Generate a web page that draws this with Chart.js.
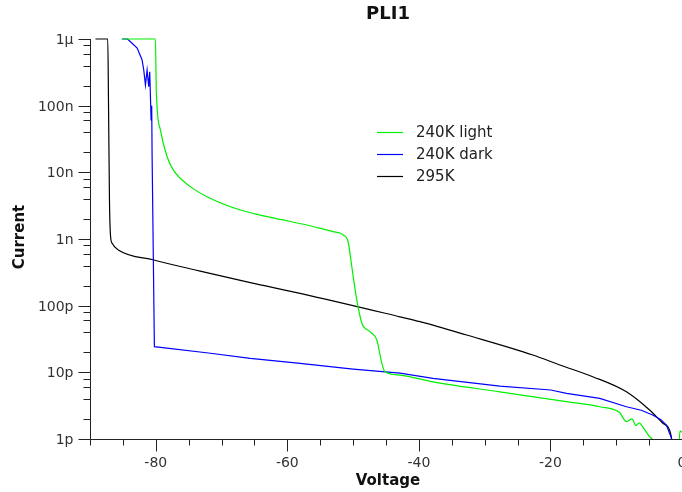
<!DOCTYPE html>
<html>
<head>
<meta charset="utf-8">
<script src="https://cdn.jsdelivr.net/npm/chart.js@4"></script>
<style>
  html, body { margin: 0; padding: 0; background: #fff; }
  canvas { display: block; }
</style>
</head>
<body>
<canvas id="c" width="682" height="492"></canvas>
<script>
// ---- Data ----
const chartTitle = 'PLI1';
const xAxisTitle = 'Voltage';
const yAxisTitle = 'Current';
const seriesNames = ['240K light', '240K dark', '295K'];

const lightVoltage = [-85.20, -80.06, -79.91, -79.30, -78.28, -77.32, -74.74, -72.21, -67.15, -62.14, -57.03, -53.04, -51.98, -51.52, -50.76, -50.20, -49.44, -48.68, -47.42, -46.40, -45.64, -45.14, -42.87, -37.86, -27.69, -17.56, -12.50, -9.5, -8.45, -7.6, -7.0, -6.5, -5.98, -5.5, -4.93, -4.46, -3.5, -0.6, -0.3, 0];
const lightCurrent = [1e-6, 1e-6, 1.55e-7, 4.32e-8, 1.71e-8, 1.08e-8, 6.1e-9, 4.31e-9, 2.72e-9, 2.07e-9, 1.62e-9, 1.29e-9, 1.23e-9, 1.15e-9, 9.1e-10, 3.84e-10, 1.22e-10, 5.5e-11, 4.07e-11, 3.05e-11, 1.38e-11, 1.02e-11, 9.1e-12, 7.2e-12, 5.1e-12, 3.63e-12, 3.05e-12, 2.5e-12, 1.82e-12, 2.0e-12, 1.6e-12, 1.75e-12, 1.53e-12, 1.3e-12, 1.08e-12, 9.7e-13, 4e-13, 5e-13, 1.32e-12, 1.26e-12];

const darkVoltage = [-85.11, -84.30, -83.85, -82.83, -82.08, -81.83, -81.57, -81.32, -81.07, -80.92, -80.71, -80.62, -80.56, -80.21, -72.0, -65.63, -58.05, -50.0, -42.87, -37.86, -27.69, -19.94, -17.56, -12.50, -8.45, -6.2, -4.46, -3.2, -2.38, -1.62, -1.40];
const darkCurrent = [1e-6, 1e-6, 9.1e-7, 7.3e-7, 4.84e-7, 3.43e-7, 2.04e-7, 3.43e-7, 1.92e-7, 3.23e-7, 6.1e-8, 1e-7, 1.82e-8, 2.43e-11, 1.95e-11, 1.62e-11, 1.36e-11, 1.12e-11, 9.7e-12, 8.1e-12, 6.2e-12, 5.43e-12, 4.84e-12, 4.07e-12, 3.05e-12, 2.7e-12, 2.29e-12, 1.95e-12, 1.62e-12, 1.04e-12, 6.3e-13];

const roomVoltage = [-89.17, -87.30, -87.19, -87.04, -86.89, -86.63, -85.63, -80.31, -73.98, -65.63, -58.05, -42.87, -39.83, -32.74, -22.68, -18.58, -13.57, -8.45, -4.93, -2.95, -1.62, -1.40];
const roomCurrent = [1e-6, 1e-6, 1.2e-7, 3.85e-9, 1.15e-9, 8.6e-10, 6.8e-10, 4.84e-10, 3.43e-10, 2.21e-10, 1.53e-10, 6.8e-11, 5.75e-11, 3.63e-11, 1.82e-11, 1.29e-11, 8.6e-12, 5.1e-12, 2.72e-12, 1.74e-12, 1.08e-12, 6.3e-13];

const xTickValues = [-80, -60, -40, -20, 0];
const xTickLabels = ['-80', '-60', '-40', '-20', '0'];
const yTickValues = [1e-12, 1e-11, 1e-10, 1e-9, 1e-8, 1e-7, 1e-6];
const yTickLabels = ['1p', '10p', '100p', '1n', '10n', '100n', '1µ'];

const seriesColors = ['#00f000', '#0000ff', '#000000'];

function pts(xs, ys) { return xs.map((v, i) => ({ x: v, y: ys[i] })); }

const FONT = '"DejaVu Sans", sans-serif';

const decor = {
  id: 'decor',
  afterDraw(chart) {
    const { ctx, chartArea: a, scales: { x, y } } = chart;
    ctx.save();
    ctx.strokeStyle = '#222';
    ctx.lineWidth = 1;
    const seg = (x1, y1, x2, y2) => { ctx.beginPath(); ctx.moveTo(x1, y1); ctx.lineTo(x2, y2); ctx.stroke(); };
    const L = Math.round(a.left) + 0.5;
    const B = Math.round(a.bottom) + 0.5;
    // axis lines
    seg(L, a.top, L, B);
    seg(L, B, a.right, B);
    // y ticks
    ctx.fillStyle = '#333';
    ctx.font = '14px ' + FONT;
    ctx.textAlign = 'right';
    ctx.textBaseline = 'middle';
    yTickValues.forEach((v, i) => {
      const py = Math.round(y.getPixelForValue(v)) + 0.5;
      seg(L - 12, py, L, py);
      ctx.fillText(yTickLabels[i], L - 17, py + 1);
      if (i < yTickValues.length - 1) {
        [2, 4, 6, 8].forEach(m => {
          const pm = Math.round(y.getPixelForValue(v * m)) + 0.5;
          seg(L - 7, pm, L, pm);
        });
      }
    });
    // x ticks
    ctx.textAlign = 'center';
    ctx.textBaseline = 'top';
    for (let v = x.min; v <= x.max + 1e-9; v += 5) {
      const px = Math.round(x.getPixelForValue(v)) + 0.5;
      const major = xTickValues.includes(v);
      seg(px, B, px, B + (major ? 12 : 6));
    }
    xTickValues.forEach((v, i) => {
      const px = x.getPixelForValue(v);
      ctx.fillText(xTickLabels[i], px, B + 17);
    });
    // titles
    ctx.fillStyle = '#111';
    ctx.font = 'bold 18px ' + FONT;
    ctx.textBaseline = 'alphabetic';
    ctx.fillText(chartTitle, (a.left + a.right) / 2 + 2, 19);
    ctx.font = 'bold 15px ' + FONT;
    ctx.fillText(xAxisTitle, (a.left + a.right) / 2 + 2, 485);
    ctx.save();
    ctx.translate(24, (a.top + a.bottom) / 2 - 2);
    ctx.rotate(-Math.PI / 2);
    ctx.fillText(yAxisTitle, 0, 0);
    ctx.restore();
    // legend
    ctx.font = '15px ' + FONT;
    ctx.textAlign = 'left';
    ctx.textBaseline = 'middle';
    const ly = [132, 154, 176];
    seriesNames.forEach((n, i) => {
      ctx.strokeStyle = seriesColors[i];
      ctx.lineWidth = 1.2;
      seg(377, ly[i] + 0.5, 403, ly[i] + 0.5);
      ctx.fillStyle = '#222';
      ctx.fillText(n, 416, ly[i] + 1);
    });
    ctx.restore();
  }
};

new Chart(document.getElementById('c'), {
  type: 'line',
  data: {
    datasets: [
      { label: seriesNames[0], data: pts(lightVoltage, lightCurrent), borderColor: seriesColors[0], cubicInterpolationMode: 'monotone' },
      { label: seriesNames[1], data: pts(darkVoltage, darkCurrent), borderColor: seriesColors[1], tension: 0 },
      { label: seriesNames[2], data: pts(roomVoltage, roomCurrent), borderColor: seriesColors[2], cubicInterpolationMode: 'monotone' }
    ]
  },
  options: {
    responsive: false,
    animation: false,
    devicePixelRatio: 1,
    layout: { padding: { left: 90, top: 39, right: 0, bottom: 53 } },
    datasets: {
      line: { borderWidth: 1.2, pointRadius: 0, fill: false, clip: { left: 2, top: 3, right: 2, bottom: 1 } }
    },
    plugins: { legend: { display: false }, title: { display: false }, tooltip: { enabled: false } },
    scales: {
      x: { type: 'linear', min: -90, max: 0, display: false },
      y: { type: 'logarithmic', min: 1e-12, max: 1e-6, display: false }
    }
  },
  plugins: [decor]
});
</script>
</body>
</html>
